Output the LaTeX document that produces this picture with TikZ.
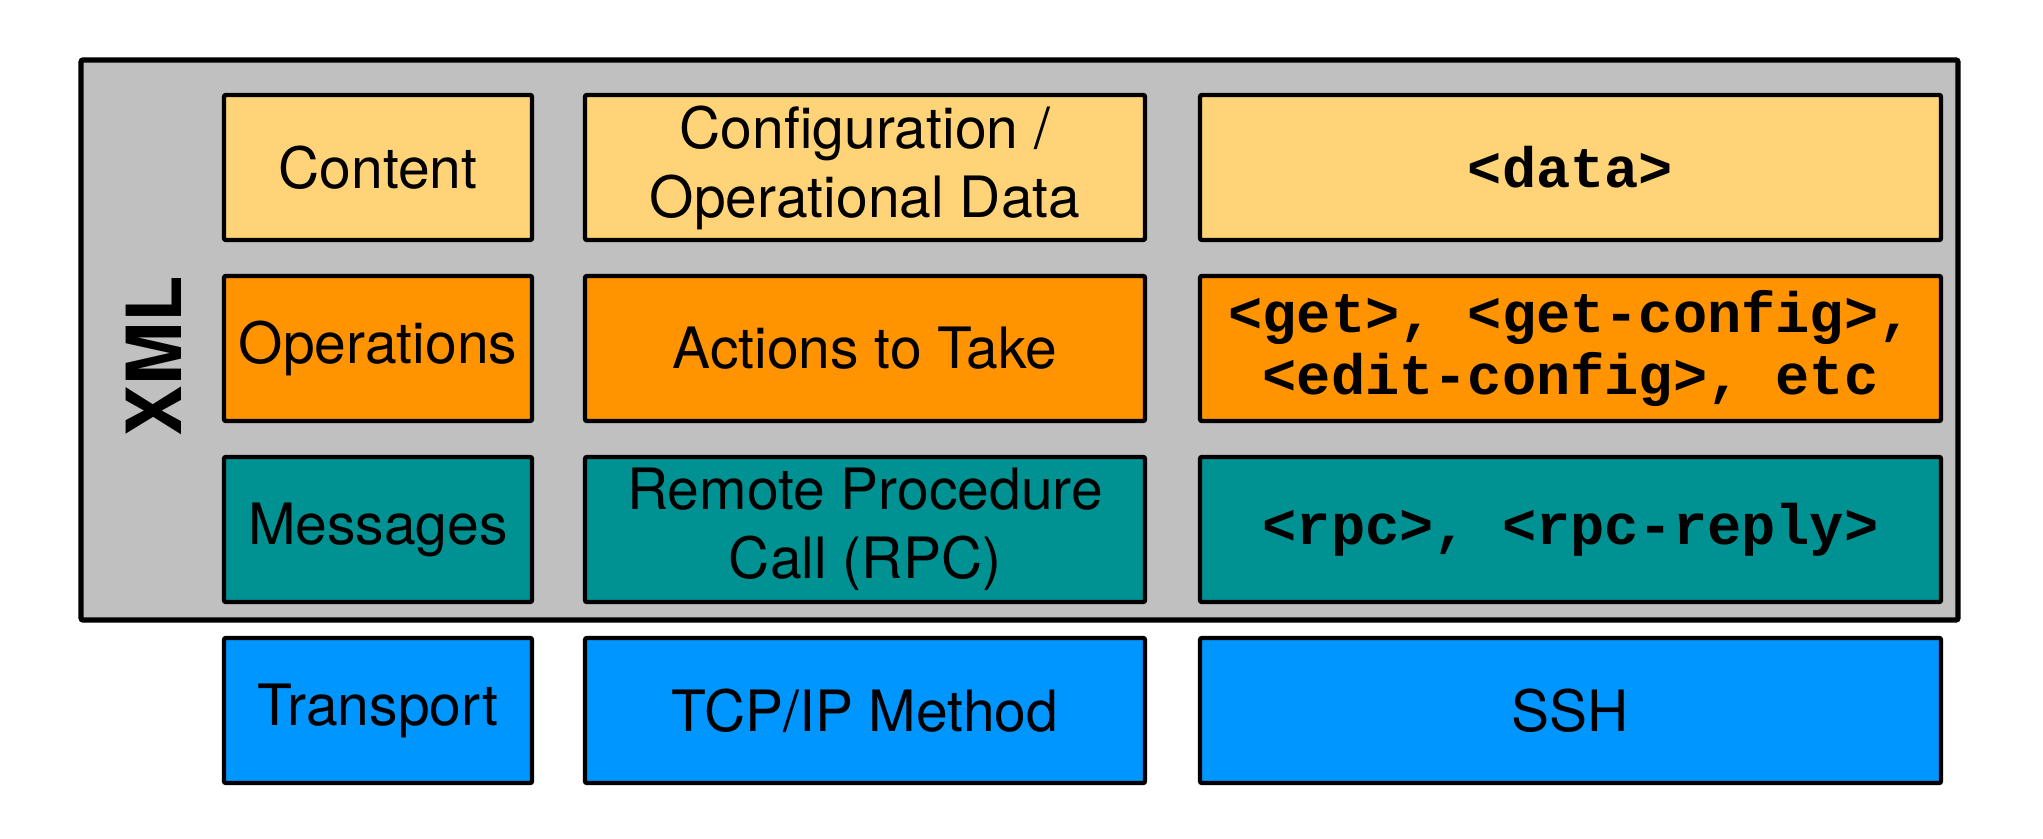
\documentclass[tikz,border=0pt]{standalone}
\usepackage{fontspec}
\setmainfont{TeX Gyre Heros}
\setmonofont{Liberation Mono}
\definecolor{cantaloupe}{HTML}{FFD479}
\definecolor{tangerine}{HTML}{FF9300}
\definecolor{tealc}{HTML}{009193}
\definecolor{aqua}{HTML}{0096FF}
\definecolor{silverc}{HTML}{C0C0C0}
\tikzset{
  cell/.style={draw=black, line width=2.2pt, rounded corners=1pt, inner sep=0pt, outer sep=0pt,
    align=center, font=\fontsize{28.5}{34.5}\selectfont},
  c1/.style={cell, minimum width=154pt, minimum height=72.5pt},
  c2/.style={cell, minimum width=280pt, minimum height=72.5pt},
  c3/.style={cell, minimum width=370.5pt, minimum height=72.5pt},
  mono/.style={font=\fontsize{28.5}{31}\selectfont\ttfamily\bfseries},
  rowA/.style={fill=cantaloupe},
  rowB/.style={fill=tangerine},
  rowC/.style={fill=tealc},
  rowD/.style={fill=aqua},
}
\begin{document}
\begin{tikzpicture}[x=0.5pt,y=-0.5pt]
\useasboundingbox (0,0) rectangle (2043,839);
\node[draw=black, line width=2.6pt, fill=silverc, rounded corners=1pt, inner sep=0pt,
  minimum width=938.5pt, minimum height=280pt] (xmlbox) at (1019.5,340) {};
\node[rotate=90, font=\fontsize{38}{42}\selectfont\bfseries] (xml) at (154,356) {XML};
% row 1
\node[c1,rowA] (content) at (378,167.5) {Content};
\node[c2,rowA] (confdata) at (865,167.5) {Configuration /\\Operational Data};
\node[c3,rowA,mono] (data) at (1570.5,167.5) {<data>};
% row 2
\node[c1,rowB] (ops) at (378,348.5) {Operations};
\node[c2,rowB] (actions) at (865,348.5) {Actions to Take};
\node[c3,rowB,mono] (getops) at (1570.5,348.5) {<get>, <get-config>,\\<edit-config>, etc};
% row 3
\node[c1,rowC] (msgs) at (378,529.5) {Messages};
\node[c2,rowC] (rpc) at (865,529.5) {Remote Procedure\\Call (RPC)};
\node[c3,rowC,mono] (rpctags) at (1570.5,529.5) {<rpc>, <rpc-reply>};
% row 4
\node[c1,rowD] (transport) at (378,710.5) {Transport};
\node[c2,rowD] (tcpip) at (865,710.5) {TCP/IP Method};
\node[c3,rowD] (ssh) at (1570.5,710.5) {SSH};
\end{tikzpicture}
\end{document}
